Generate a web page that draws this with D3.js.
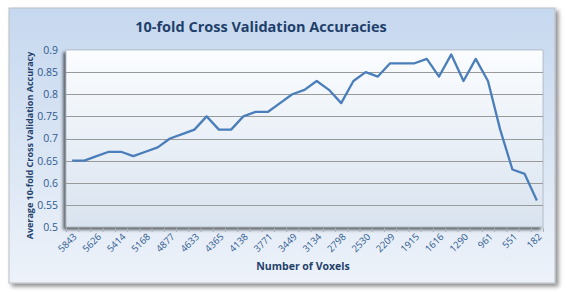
<!DOCTYPE html>
<html>
<head>
<meta charset="utf-8">
<script src="https://cdn.jsdelivr.net/npm/d3@7"></script>
<style>
  html, body { margin: 0; padding: 0; background: #fff; }
  svg { display: block; }
  text { font-family: "Open Sans", "DejaVu Sans", sans-serif; }
</style>
</head>
<body>
<div id="chart"></div>
<script>
// Tick labels shown under every second category (number of voxels)
const voxelLabels = ["5843", "5626", "5414", "5168", "4877", "4633", "4365", "4138", "3771", "3449",
  "3134", "2798", "2530", "2209", "1915", "1616", "1290", "961", "551", "182"];

// Average 10-fold accuracy for each of the 39 categories
const accuracy = [0.65, 0.65, 0.66, 0.67, 0.67, 0.66, 0.67, 0.68, 0.70, 0.71,
  0.72, 0.75, 0.72, 0.72, 0.75, 0.76, 0.76, 0.78, 0.80, 0.81,
  0.83, 0.81, 0.78, 0.83, 0.85, 0.84, 0.87, 0.87, 0.87, 0.88,
  0.84, 0.89, 0.83, 0.88, 0.83, 0.72, 0.63, 0.62, 0.56];

const yTicks = [0.5, 0.55, 0.6, 0.65, 0.7, 0.75, 0.8, 0.85, 0.9];

const W = 567, H = 292;
const plot = { left: 66, right: 543, top: 50, bottom: 227 };
const labelBlue = "#2f5a8f";
const titleBlue = "#1f3f6b";

const svg = d3.select("#chart").append("svg")
  .attr("width", W)
  .attr("height", H);

const defs = svg.append("defs");

// outer chart background
const bgGrad = defs.append("linearGradient")
  .attr("id", "bgGrad").attr("x1", 0).attr("y1", 0).attr("x2", 0).attr("y2", 1);
bgGrad.append("stop").attr("offset", "0%").attr("stop-color", "#c6d8ef");
bgGrad.append("stop").attr("offset", "100%").attr("stop-color", "#edf2f9");

// plot area background
const plotGrad = defs.append("linearGradient")
  .attr("id", "plotGrad").attr("x1", 0).attr("y1", 0).attr("x2", 0).attr("y2", 1);
plotGrad.append("stop").attr("offset", "0%").attr("stop-color", "#fbfdff");
plotGrad.append("stop").attr("offset", "100%").attr("stop-color", "#d9e3ef");

const outerShadow = defs.append("filter").attr("id", "outerShadow")
  .attr("x", "-5%").attr("y", "-5%").attr("width", "112%").attr("height", "115%");
outerShadow.append("feDropShadow")
  .attr("dx", 3).attr("dy", 3).attr("stdDeviation", 2.2)
  .attr("flood-color", "#000").attr("flood-opacity", 0.45);

const plotShadow = defs.append("filter").attr("id", "plotShadow")
  .attr("x", "-5%").attr("y", "-5%").attr("width", "112%").attr("height", "115%");
plotShadow.append("feDropShadow")
  .attr("dx", -2.5).attr("dy", 2.5).attr("stdDeviation", 1.5)
  .attr("flood-color", "#000").attr("flood-opacity", 0.6);

// Outer box
svg.append("rect")
  .attr("x", 9).attr("y", 8)
  .attr("width", 546).attr("height", 275)
  .attr("fill", "url(#bgGrad)")
  .attr("stroke", "#b9bec6")
  .attr("stroke-width", 1)
  .attr("filter", "url(#outerShadow)");

// Scales
const x = d3.scaleBand()
  .domain(d3.range(accuracy.length))
  .range([plot.left, plot.right])
  .padding(0);

const y = d3.scaleLinear()
  .domain([0.5, 0.9])
  .range([plot.bottom, plot.top]);

// Plot area
svg.append("rect")
  .attr("x", plot.left).attr("y", plot.top)
  .attr("width", plot.right - plot.left)
  .attr("height", plot.bottom - plot.top)
  .attr("fill", "url(#plotGrad)")
  .attr("stroke", "#9aa3ad")
  .attr("stroke-width", 0.6)
  .attr("filter", "url(#plotShadow)");

// Gridlines
svg.append("g")
  .selectAll("line")
  .data(yTicks.slice(1, -1))
  .join("line")
  .attr("x1", plot.left).attr("x2", plot.right)
  .attr("y1", d => Math.round(y(d)) + 0.5)
  .attr("y2", d => Math.round(y(d)) + 0.5)
  .attr("stroke", "#9a9a9a")
  .attr("stroke-width", 1);

// Y axis labels
const yAxis = d3.axisLeft(y)
  .tickValues(yTicks)
  .tickSize(0)
  .tickPadding(8)
  .tickFormat(d => d3.format("")(+d.toFixed(2)));

svg.append("g")
  .attr("transform", `translate(${plot.left},0)`)
  .call(yAxis)
  .call(g => g.select(".domain").remove())
  .call(g => g.selectAll("text")
    .attr("fill", labelBlue)
    .attr("font-size", 10.5));

// X axis: tick marks at category boundaries
const bounds = d3.range(accuracy.length + 1).map(i => plot.left + i * x.bandwidth());
svg.append("g")
  .selectAll("line")
  .data(bounds)
  .join("line")
  .attr("x1", d => d + 0.5).attr("x2", d => d + 0.5)
  .attr("y1", plot.bottom + 1).attr("y2", plot.bottom + 5)
  .attr("stroke", "#a9b1bb")
  .attr("stroke-width", 1);

// X labels, every second category
svg.append("g")
  .selectAll("text")
  .data(voxelLabels)
  .join("text")
  .attr("transform", (d, i) => {
    const cx = x(i * 2) + x.bandwidth() / 2 + 3;
    return `translate(${cx},${plot.bottom + 8}) rotate(-45)`;
  })
  .attr("text-anchor", "end")
  .attr("dy", "0.35em")
  .attr("fill", labelBlue)
  .attr("font-size", 9.5)
  .text(d => d);

// Line
const line = d3.line()
  .x((d, i) => x(i) + x.bandwidth() / 2)
  .y(d => y(d));

svg.append("path")
  .datum(accuracy)
  .attr("d", line)
  .attr("fill", "none")
  .attr("stroke", "#4a7ebb")
  .attr("stroke-width", 2.3)
  .attr("stroke-linejoin", "round");

// Title
svg.append("text")
  .attr("x", 261).attr("y", 32)
  .attr("text-anchor", "middle")
  .attr("font-size", 14.5)
  .attr("font-weight", "bold")
  .attr("fill", titleBlue)
  .text("10-fold Cross Validation Accuracies");

// Y axis title
svg.append("text")
  .attr("transform", `translate(33,${(plot.top + plot.bottom) / 2 + 7}) rotate(-90)`)
  .attr("text-anchor", "middle")
  .attr("font-size", 9)
  .attr("font-weight", "bold")
  .attr("fill", titleBlue)
  .text("Average 10-fold Cross Validation Accuracy");

// X axis title
svg.append("text")
  .attr("x", 303)
  .attr("y", 270)
  .attr("text-anchor", "middle")
  .attr("font-size", 10.5)
  .attr("font-weight", "bold")
  .attr("fill", titleBlue)
  .text("Number of Voxels");
</script>
</body>
</html>
